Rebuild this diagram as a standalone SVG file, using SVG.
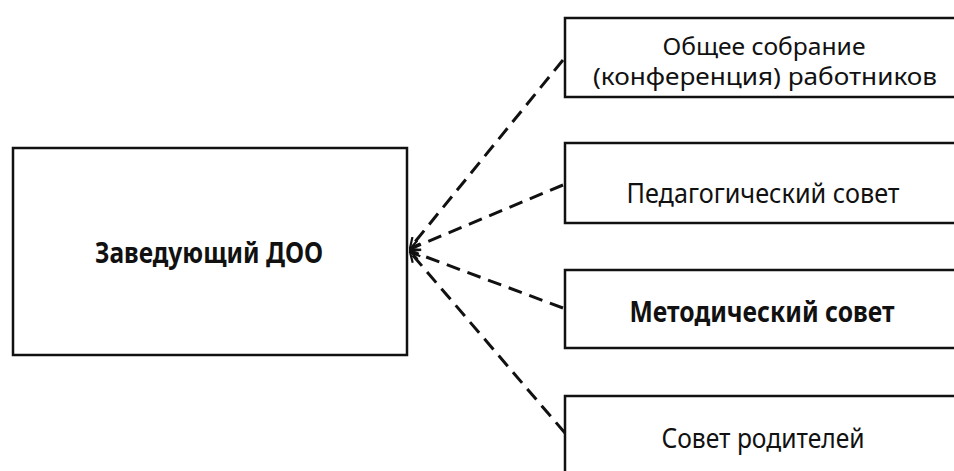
<svg xmlns="http://www.w3.org/2000/svg" width="954" height="471" viewBox="0 0 954 471">
  <style>
    .box { fill: #fff; stroke: #111; stroke-width: 2.5; }
    .lbl { font-family: "Noto Sans", "Open Sans", "DejaVu Sans", sans-serif; font-size: 28px; fill: #111; text-anchor: middle; }
    .sm { font-size: 24px; }
    .b { font-weight: bold; }
    .link { fill: none; stroke: #111; stroke-width: 3; stroke-dasharray: 14 8; }
  </style>
  <defs>
    <marker id="head" viewBox="0 0 12 12" refX="11" refY="6" markerWidth="12" markerHeight="12" markerUnits="userSpaceOnUse" orient="auto">
      <path d="M1 1 L11 6 L1 11" fill="none" stroke="#111" stroke-width="2.2"/>
    </marker>
  </defs>
  <rect width="954" height="471" fill="#fff"/>

  <g id="head-node">
    <rect class="box" x="13" y="148" width="394" height="207"/>
    <text class="lbl b" x="209" y="263" textLength="228" lengthAdjust="spacingAndGlyphs">Заведующий ДОО</text>
  </g>

  <g id="general-meeting">
    <rect class="box" x="565" y="18" width="400" height="79"/>
    <text class="lbl sm" x="764" y="55" textLength="203" lengthAdjust="spacingAndGlyphs">Общее собрание</text>
    <text class="lbl sm" x="765" y="85" textLength="344" lengthAdjust="spacingAndGlyphs">(конференция) работников</text>
  </g>

  <g id="pedagogical-council">
    <rect class="box" x="565" y="143" width="400" height="80"/>
    <text class="lbl" x="763" y="203" textLength="273" lengthAdjust="spacingAndGlyphs">Педагогический совет</text>
  </g>

  <g id="methodical-council">
    <rect class="box" x="565" y="270" width="400" height="78"/>
    <text class="lbl b" x="762" y="322" textLength="265" lengthAdjust="spacingAndGlyphs">Методический совет</text>
  </g>

  <g id="parents-council">
    <rect class="box" x="565" y="396" width="400" height="90"/>
    <text class="lbl" x="763" y="448" textLength="203" lengthAdjust="spacingAndGlyphs">Совет родителей</text>
  </g>

  <g id="connectors">
    <path class="link" d="M563 60 L410 248" marker-end="url(#head)"/>
    <path class="link" d="M563 185 L410 249" marker-end="url(#head)"/>
    <path class="link" d="M563 308 L410 251" marker-end="url(#head)"/>
    <path class="link" d="M565 433 L410 252" marker-end="url(#head)"/>
  </g>
</svg>
